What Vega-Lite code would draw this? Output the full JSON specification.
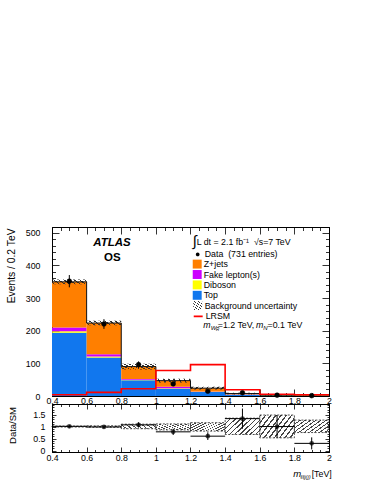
{
"$schema": "https://vega.github.io/schema/vega-lite/v6.json",
"padding": {"left": 6, "top": 226, "right": 0, "bottom": 0},
"background": "white",
"spacing": 8,
"bounds": "flush",
"config": {
 "font": "Liberation Sans",
 "view": {"stroke": "black", "strokeWidth": 1},
 "axis": {"labelFont": "Liberation Sans", "titleFont": "Liberation Sans", "labelFontSize": 8.8, "labelColor": "black", "titleColor": "black", "tickColor": "black", "domainColor": "black", "domainWidth": 1, "tickWidth": 0.8, "grid": false, "zindex": 1, "labelFlush": false, "labelOverlap": false, "titleFontWeight": "normal"},
 "legend": {"labelFont": "Liberation Sans", "labelFontSize": 8.8, "labelColor": "black", "padding": 0, "rowPadding": 0.4, "labelOffset": 2, "symbolSize": 80}
},
"datasets": {
 "stack": [
  {"lo":0.4,"hi":0.6,"process":"Top","ord":1,"n":194},
  {"lo":0.4,"hi":0.6,"process":"Diboson","ord":2,"n":4},
  {"lo":0.4,"hi":0.6,"process":"Fake lepton(s)","ord":3,"n":12},
  {"lo":0.4,"hi":0.6,"process":"Z+jets","ord":4,"n":139.5},
  {"lo":0.6,"hi":0.8,"process":"Top","ord":1,"n":118},
  {"lo":0.6,"hi":0.8,"process":"Diboson","ord":2,"n":3},
  {"lo":0.6,"hi":0.8,"process":"Fake lepton(s)","ord":3,"n":7},
  {"lo":0.6,"hi":0.8,"process":"Z+jets","ord":4,"n":95.4},
  {"lo":0.8,"hi":1.0,"process":"Top","ord":1,"n":48},
  {"lo":0.8,"hi":1.0,"process":"Diboson","ord":2,"n":2},
  {"lo":0.8,"hi":1.0,"process":"Fake lepton(s)","ord":3,"n":2},
  {"lo":0.8,"hi":1.0,"process":"Z+jets","ord":4,"n":38},
  {"lo":1.0,"hi":1.2,"process":"Top","ord":1,"n":22},
  {"lo":1.0,"hi":1.2,"process":"Diboson","ord":2,"n":2},
  {"lo":1.0,"hi":1.2,"process":"Fake lepton(s)","ord":3,"n":4},
  {"lo":1.0,"hi":1.2,"process":"Z+jets","ord":4,"n":19},
  {"lo":1.2,"hi":1.4,"process":"Top","ord":1,"n":12},
  {"lo":1.2,"hi":1.4,"process":"Diboson","ord":2,"n":1},
  {"lo":1.2,"hi":1.4,"process":"Fake lepton(s)","ord":3,"n":1},
  {"lo":1.2,"hi":1.4,"process":"Z+jets","ord":4,"n":10},
  {"lo":1.4,"hi":1.6,"process":"Top","ord":1,"n":4},
  {"lo":1.4,"hi":1.6,"process":"Diboson","ord":2,"n":0.5},
  {"lo":1.4,"hi":1.6,"process":"Fake lepton(s)","ord":3,"n":0.5},
  {"lo":1.4,"hi":1.6,"process":"Z+jets","ord":4,"n":2.5},
  {"lo":1.6,"hi":1.8,"process":"Top","ord":1,"n":1},
  {"lo":1.6,"hi":1.8,"process":"Diboson","ord":2,"n":0.3},
  {"lo":1.6,"hi":1.8,"process":"Fake lepton(s)","ord":3,"n":0.2},
  {"lo":1.6,"hi":1.8,"process":"Z+jets","ord":4,"n":1},
  {"lo":1.8,"hi":2.0,"process":"Top","ord":1,"n":1},
  {"lo":1.8,"hi":2.0,"process":"Diboson","ord":2,"n":0.3},
  {"lo":1.8,"hi":2.0,"process":"Fake lepton(s)","ord":3,"n":0.5},
  {"lo":1.8,"hi":2.0,"process":"Z+jets","ord":4,"n":1.5}
 ],
 "bins": [
  {"lo":0.4,"hi":0.6,"mid":0.5,"data":351.6,"dlo":332.8,"dhi":370.4,"blo":342.5,"bhi":356.5,"r":1.01,"rlo":0.955,"rhi":1.06,"rblo":0.98,"rbhi":1.02},
  {"lo":0.6,"hi":0.8,"mid":0.7,"data":220.4,"dlo":205.6,"dhi":235.2,"blo":216.7,"bhi":230.1,"r":0.985,"rlo":0.92,"rhi":1.05,"rblo":0.97,"rbhi":1.03},
  {"lo":0.8,"hi":1.0,"mid":0.9,"data":96,"dlo":86.2,"dhi":105.8,"blo":81.4,"bhi":98.6,"r":1.07,"rlo":0.96,"rhi":1.18,"rblo":0.91,"rbhi":1.1},
  {"lo":1.0,"hi":1.2,"mid":1.1,"data":37,"dlo":30.9,"dhi":43.1,"blo":41.4,"bhi":52.6,"r":0.78,"rlo":0.65,"rhi":0.91,"rblo":0.86,"rbhi":1.11},
  {"lo":1.2,"hi":1.4,"mid":1.3,"data":14.6,"dlo":10.8,"dhi":18.4,"blo":19.8,"bhi":28.2,"r":0.6,"rlo":0.44,"rhi":0.76,"rblo":0.81,"rbhi":1.16},
  {"lo":1.4,"hi":1.6,"mid":1.5,"data":9.8,"dlo":6.7,"dhi":12.9,"blo":5,"bhi":10,"r":1.33,"rlo":0.91,"rhi":1.75,"rblo":0.67,"rbhi":1.35},
  {"lo":1.6,"hi":1.8,"mid":1.7,"data":2.5,"dlo":0.9,"dhi":4.1,"blo":1.3,"bhi":3.7,"r":1.0,"rlo":0.52,"rhi":1.48,"rblo":0.53,"rbhi":1.48},
  {"lo":1.8,"hi":2.0,"mid":1.9,"data":1,"dlo":0,"dhi":2,"blo":2.4,"bhi":4.2,"r":0.3,"rlo":0.05,"rhi":0.55,"rblo":0.75,"rbhi":1.27}
 ],
 "steps": [
  {"edge":0.4,"tot":349.5,"sig":4},
  {"edge":0.6,"tot":223.4,"sig":11},
  {"edge":0.8,"tot":90,"sig":22},
  {"edge":1.0,"tot":47,"sig":78},
  {"edge":1.2,"tot":24,"sig":96},
  {"edge":1.4,"tot":7.5,"sig":19},
  {"edge":1.6,"tot":2.5,"sig":5.5},
  {"edge":1.8,"tot":3.3,"sig":3.6},
  {"edge":2.0,"tot":3.3,"sig":3.6}
 ]
},
"vconcat": [
 {
  "width": 277, "height": 169,
  "resolve": {"axis": {"x": "independent", "y": "independent"}, "scale": {"opacity": "independent"}, "legend": {"opacity": "independent"}},
  "layer": [
   {"data": {"name": "stack"},
    "transform": [{"stack": "n", "groupby": ["lo"], "sort": [{"field": "ord", "order": "ascending"}], "as": ["y0", "y1"]}],
    "mark": {"type": "rect"},
    "encoding": {
     "x": {"field": "lo", "type": "quantitative", "scale": {"domain": [0.4, 2], "nice": false, "zero": false},
           "axis": {"orient": "bottom", "title": null, "tickCount": 32, "labelExpr": "abs(datum.value*5-round(datum.value*5))<0.001 ? format(datum.value,'~g') : ''", "tickSize": {"condition": {"test": "abs(datum.value*5-round(datum.value*5))<0.001", "value": -7}, "value": -3.5}, "labelPadding": 7.5}},
     "x2": {"field": "hi"},
     "y": {"field": "y0", "type": "quantitative", "scale": {"domain": [0, 517.5], "nice": false, "zero": false},
           "axis": {"orient": "left", "title": "Events / 0.2 TeV", "titleFontSize": 10.3, "titleX": -40.5, "titleY": 1, "titleAlign": "right", "titleBaseline": "middle", "titleAngle": 270, "tickCount": 26, "labelExpr": "datum.value % 100 == 0 ? format(datum.value,'d') : ''", "tickSize": {"condition": {"test": "datum.value % 100 == 0", "value": -7}, "value": -3.5}, "labelPadding": 19}},
     "y2": {"field": "y1"},
     "color": {"field": "process", "type": "nominal",
               "scale": {"domain": ["Z+jets", "Fake lepton(s)", "Diboson", "Top"], "range": ["#ff7f00", "#cc00ff", "#ffff00", "#1177ee"]},
               "legend": {"orient": "none", "legendX": 140.7, "legendY": 32.6, "title": null, "symbolType": "square", "symbolStrokeWidth": 0}}
    }},
   {"data": {"name": "bins"},
    "mark": {"type": "rect", "fill": {"gradient": "linear", "x1": 0, "y1": 0, "x2": 1.2, "y2": 0.6, "stops": [
      {"offset":0,"color":"#333333"},{"offset":0.03,"color":"#333333"},{"offset":0.03,"color":"rgba(255,255,255,0)"},{"offset":0.1,"color":"rgba(255,255,255,0)"},
      {"offset":0.1,"color":"#333333"},{"offset":0.13,"color":"#333333"},{"offset":0.13,"color":"rgba(255,255,255,0)"},{"offset":0.2,"color":"rgba(255,255,255,0)"},
      {"offset":0.2,"color":"#333333"},{"offset":0.23,"color":"#333333"},{"offset":0.23,"color":"rgba(255,255,255,0)"},{"offset":0.3,"color":"rgba(255,255,255,0)"},
      {"offset":0.3,"color":"#333333"},{"offset":0.33,"color":"#333333"},{"offset":0.33,"color":"rgba(255,255,255,0)"},{"offset":0.4,"color":"rgba(255,255,255,0)"},
      {"offset":0.4,"color":"#333333"},{"offset":0.43,"color":"#333333"},{"offset":0.43,"color":"rgba(255,255,255,0)"},{"offset":0.5,"color":"rgba(255,255,255,0)"},
      {"offset":0.5,"color":"#333333"},{"offset":0.53,"color":"#333333"},{"offset":0.53,"color":"rgba(255,255,255,0)"},{"offset":0.6,"color":"rgba(255,255,255,0)"},
      {"offset":0.6,"color":"#333333"},{"offset":0.63,"color":"#333333"},{"offset":0.63,"color":"rgba(255,255,255,0)"},{"offset":0.7,"color":"rgba(255,255,255,0)"},
      {"offset":0.7,"color":"#333333"},{"offset":0.73,"color":"#333333"},{"offset":0.73,"color":"rgba(255,255,255,0)"},{"offset":0.8,"color":"rgba(255,255,255,0)"},
      {"offset":0.8,"color":"#333333"},{"offset":0.83,"color":"#333333"},{"offset":0.83,"color":"rgba(255,255,255,0)"},{"offset":0.9,"color":"rgba(255,255,255,0)"},
      {"offset":0.9,"color":"#333333"},{"offset":0.93,"color":"#333333"},{"offset":0.93,"color":"rgba(255,255,255,0)"},{"offset":1,"color":"rgba(255,255,255,0)"}]}},
    "encoding": {
     "x": {"field": "lo", "type": "quantitative", "scale": {"domain": [0.4, 2], "nice": false, "zero": false}, "axis": null},
     "x2": {"field": "hi"},
     "y": {"field": "blo", "type": "quantitative", "scale": {"domain": [0, 517.5], "nice": false, "zero": false}, "axis": null},
     "y2": {"field": "bhi"},
     "opacity": {"datum": "Background uncertainty", "scale": {"range": [1, 1]},
       "legend": {"orient": "none", "legendX": 140.7, "legendY": 73.5, "title": null, "symbolType": "M-1,-1H1V1H-1ZM-1,0.2L0.2,-1M-1,1L1,-1M-0.2,1L1,-0.2", "symbolStrokeColor": "#333333", "symbolStrokeWidth": 0.7, "symbolFillColor": "white"}}
    }},
   {"data": {"name": "steps"}, "mark": {"type": "line", "interpolate": "step-after", "color": "#111111", "strokeWidth": 1},
    "encoding": {
     "x": {"field": "edge", "type": "quantitative", "scale": {"domain": [0.4, 2], "nice": false, "zero": false},
           "axis": {"orient": "top", "title": null, "labels": false, "tickCount": 32, "tickSize": {"condition": {"test": "abs(datum.value*5-round(datum.value*5))<0.001", "value": -7}, "value": -3.5}}},
     "y": {"field": "tot", "type": "quantitative", "scale": {"domain": [0, 517.5], "nice": false, "zero": false},
           "axis": {"orient": "right", "title": null, "labels": false, "tickCount": 26, "tickSize": {"condition": {"test": "datum.value % 100 == 0", "value": -7}, "value": -3.5}}}
    }},
   {"data": {"name": "steps"}, "mark": {"type": "line", "interpolate": "step-after", "color": "#ff0000", "strokeWidth": 1.6},
    "encoding": {
     "x": {"field": "edge", "type": "quantitative", "scale": {"domain": [0.4, 2], "nice": false, "zero": false}, "axis": null},
     "y": {"field": "sig", "type": "quantitative", "scale": {"domain": [0, 517.5], "nice": false, "zero": false}, "axis": null},
     "strokeDash": {"datum": "LRSM", "scale": {"range": [[1, 0]]},
       "legend": {"orient": "none", "legendX": 140.7, "legendY": 83.9, "title": null, "symbolStrokeWidth": 1.6}}
    }},
   {"data": {"name": "bins"}, "mark": {"type": "rule", "color": "black", "strokeWidth": 1},
    "encoding": {
     "x": {"field": "mid", "type": "quantitative", "scale": {"domain": [0.4, 2], "nice": false, "zero": false}, "axis": null},
     "y": {"field": "dlo", "type": "quantitative", "scale": {"domain": [0, 517.5], "nice": false, "zero": false}, "axis": null},
     "y2": {"field": "dhi"}
    }},
   {"data": {"name": "bins"}, "mark": {"type": "point", "shape": "circle", "filled": true, "size": 22, "color": "black", "stroke": "black", "strokeWidth": 0.6},
    "encoding": {
     "x": {"field": "mid", "type": "quantitative", "scale": {"domain": [0.4, 2], "nice": false, "zero": false}, "axis": null},
     "y": {"field": "data", "type": "quantitative", "scale": {"domain": [0, 517.5], "nice": false, "zero": false}, "axis": null},
     "opacity": {"datum": "Data\u00a0\u00a0(731 entries)", "scale": {"range": [1, 1]},
       "legend": {"orient": "none", "legendX": 140.7, "legendY": 22.4, "title": null, "symbolType": "M-1,0H1M0,-0.6V0.6M0.42,0A0.42,0.42,0,1,1,-0.42,0A0.42,0.42,0,1,1,0.42,0Z", "symbolFillColor": "black", "symbolStrokeColor": "black", "symbolStrokeWidth": 1}}
    }},
   {"data": {"values": [{"t": "ATLAS"}]}, "mark": {"type": "text", "fontSize": 11.5, "fontWeight": "bold", "fontStyle": "italic", "align": "center", "baseline": "middle", "color": "black"},
    "encoding": {"text": {"field": "t", "type": "nominal"},
     "x": {"datum": 0.7466, "type": "quantitative", "scale": {"domain": [0.4, 2], "nice": false, "zero": false}, "axis": null},
     "y": {"datum": 469.4, "type": "quantitative", "scale": {"domain": [0, 517.5], "nice": false, "zero": false}, "axis": null}}},
   {"data": {"values": [{"t": "OS"}]}, "mark": {"type": "text", "fontSize": 11.5, "fontWeight": "bold", "align": "center", "baseline": "middle", "color": "black"},
    "encoding": {"text": {"field": "t", "type": "nominal"},
     "x": {"datum": 0.7484, "type": "quantitative", "scale": {"domain": [0.4, 2], "nice": false, "zero": false}, "axis": null},
     "y": {"datum": 423.5, "type": "quantitative", "scale": {"domain": [0, 517.5], "nice": false, "zero": false}, "axis": null}}},
   {"data": {"values": [{"t": "∫"}]}, "mark": {"type": "text", "fontSize": 15, "align": "center", "baseline": "middle", "color": "black"},
    "encoding": {"text": {"field": "t", "type": "nominal"},
     "x": {"datum": 1.2232, "type": "quantitative", "scale": {"domain": [0.4, 2], "nice": false, "zero": false}, "axis": null},
     "y": {"datum": 473.1, "type": "quantitative", "scale": {"domain": [0, 517.5], "nice": false, "zero": false}, "axis": null}}},
   {"data": {"values": [{"t": "L dt = 2.1 fb⁻¹\u00a0 √s=7 TeV"}]}, "mark": {"type": "text", "fontSize": 8.8, "align": "left", "baseline": "middle", "color": "black"},
    "encoding": {"text": {"field": "t", "type": "nominal"},
     "x": {"datum": 1.2359, "type": "quantitative", "scale": {"domain": [0.4, 2], "nice": false, "zero": false}, "axis": null},
     "y": {"datum": 472.5, "type": "quantitative", "scale": {"domain": [0, 517.5], "nice": false, "zero": false}, "axis": null}}},
   {"data": {"values": [{"t": "m"}]}, "mark": {"type": "text", "fontSize": 8.8, "fontStyle": "italic", "align": "left", "baseline": "middle", "color": "black"},
    "encoding": {"text": {"field": "t", "type": "nominal"},
     "x": {"datum": 1.2739, "type": "quantitative", "scale": {"domain": [0.4, 2], "nice": false, "zero": false}, "axis": null},
     "y": {"datum": 216.5, "type": "quantitative", "scale": {"domain": [0, 517.5], "nice": false, "zero": false}, "axis": null}}},
   {"data": {"values": [{"t": "W"}]}, "mark": {"type": "text", "fontSize": 6, "fontStyle": "italic", "align": "left", "baseline": "middle", "color": "black"},
    "encoding": {"text": {"field": "t", "type": "nominal"},
     "x": {"datum": 1.3167, "type": "quantitative", "scale": {"domain": [0.4, 2], "nice": false, "zero": false}, "axis": null},
     "y": {"datum": 209.5, "type": "quantitative", "scale": {"domain": [0, 517.5], "nice": false, "zero": false}, "axis": null}}},
   {"data": {"values": [{"t": "R"}]}, "mark": {"type": "text", "fontSize": 4.5, "fontStyle": "italic", "align": "left", "baseline": "middle", "color": "black"},
    "encoding": {"text": {"field": "t", "type": "nominal"},
     "x": {"datum": 1.3473, "type": "quantitative", "scale": {"domain": [0.4, 2], "nice": false, "zero": false}, "axis": null},
     "y": {"datum": 203.4, "type": "quantitative", "scale": {"domain": [0, 517.5], "nice": false, "zero": false}, "axis": null}}},
   {"data": {"values": [{"t": "=1.2 TeV,"}]}, "mark": {"type": "text", "fontSize": 8.8, "align": "left", "baseline": "middle", "color": "black"},
    "encoding": {"text": {"field": "t", "type": "nominal"},
     "x": {"datum": 1.3577, "type": "quantitative", "scale": {"domain": [0.4, 2], "nice": false, "zero": false}, "axis": null},
     "y": {"datum": 216.5, "type": "quantitative", "scale": {"domain": [0, 517.5], "nice": false, "zero": false}, "axis": null}}},
   {"data": {"values": [{"t": "m"}]}, "mark": {"type": "text", "fontSize": 8.8, "fontStyle": "italic", "align": "left", "baseline": "middle", "color": "black"},
    "encoding": {"text": {"field": "t", "type": "nominal"},
     "x": {"datum": 1.5783, "type": "quantitative", "scale": {"domain": [0.4, 2], "nice": false, "zero": false}, "axis": null},
     "y": {"datum": 216.5, "type": "quantitative", "scale": {"domain": [0, 517.5], "nice": false, "zero": false}, "axis": null}}},
   {"data": {"values": [{"t": "N"}]}, "mark": {"type": "text", "fontSize": 6, "fontStyle": "italic", "align": "left", "baseline": "middle", "color": "black"},
    "encoding": {"text": {"field": "t", "type": "nominal"},
     "x": {"datum": 1.6205, "type": "quantitative", "scale": {"domain": [0.4, 2], "nice": false, "zero": false}, "axis": null},
     "y": {"datum": 209.5, "type": "quantitative", "scale": {"domain": [0, 517.5], "nice": false, "zero": false}, "axis": null}}},
   {"data": {"values": [{"t": "=0.1 TeV"}]}, "mark": {"type": "text", "fontSize": 8.8, "align": "left", "baseline": "middle", "color": "black"},
    "encoding": {"text": {"field": "t", "type": "nominal"},
     "x": {"datum": 1.6448, "type": "quantitative", "scale": {"domain": [0.4, 2], "nice": false, "zero": false}, "axis": null},
     "y": {"datum": 216.5, "type": "quantitative", "scale": {"domain": [0, 517.5], "nice": false, "zero": false}, "axis": null}}}
  ]
 },
 {
  "width": 277, "height": 48,
  "resolve": {"axis": {"x": "independent", "y": "independent"}},
  "layer": [
   {"data": {"name": "bins"},
    "mark": {"type": "rect", "stroke": "#222222", "strokeWidth": 0.8, "strokeDash": [2, 1.5], "fill": {"gradient": "linear", "x1": 0, "y1": 0, "x2": 1.2, "y2": 0.6, "stops": [
      {"offset":0,"color":"#444444"},{"offset":0.03,"color":"#444444"},{"offset":0.03,"color":"rgba(255,255,255,0)"},{"offset":0.1,"color":"rgba(255,255,255,0)"},
      {"offset":0.1,"color":"#444444"},{"offset":0.13,"color":"#444444"},{"offset":0.13,"color":"rgba(255,255,255,0)"},{"offset":0.2,"color":"rgba(255,255,255,0)"},
      {"offset":0.2,"color":"#444444"},{"offset":0.23,"color":"#444444"},{"offset":0.23,"color":"rgba(255,255,255,0)"},{"offset":0.3,"color":"rgba(255,255,255,0)"},
      {"offset":0.3,"color":"#444444"},{"offset":0.33,"color":"#444444"},{"offset":0.33,"color":"rgba(255,255,255,0)"},{"offset":0.4,"color":"rgba(255,255,255,0)"},
      {"offset":0.4,"color":"#444444"},{"offset":0.43,"color":"#444444"},{"offset":0.43,"color":"rgba(255,255,255,0)"},{"offset":0.5,"color":"rgba(255,255,255,0)"},
      {"offset":0.5,"color":"#444444"},{"offset":0.53,"color":"#444444"},{"offset":0.53,"color":"rgba(255,255,255,0)"},{"offset":0.6,"color":"rgba(255,255,255,0)"},
      {"offset":0.6,"color":"#444444"},{"offset":0.63,"color":"#444444"},{"offset":0.63,"color":"rgba(255,255,255,0)"},{"offset":0.7,"color":"rgba(255,255,255,0)"},
      {"offset":0.7,"color":"#444444"},{"offset":0.73,"color":"#444444"},{"offset":0.73,"color":"rgba(255,255,255,0)"},{"offset":0.8,"color":"rgba(255,255,255,0)"},
      {"offset":0.8,"color":"#444444"},{"offset":0.83,"color":"#444444"},{"offset":0.83,"color":"rgba(255,255,255,0)"},{"offset":0.9,"color":"rgba(255,255,255,0)"},
      {"offset":0.9,"color":"#444444"},{"offset":0.93,"color":"#444444"},{"offset":0.93,"color":"rgba(255,255,255,0)"},{"offset":1,"color":"rgba(255,255,255,0)"}]}},
    "encoding": {
     "x": {"field": "lo", "type": "quantitative", "scale": {"domain": [0.4, 2], "nice": false, "zero": false},
           "axis": {"orient": "bottom", "title": null, "tickCount": 32, "labelExpr": "abs(datum.value*5-round(datum.value*5))<0.001 ? format(datum.value,'~g') : ''", "tickSize": {"condition": {"test": "abs(datum.value*5-round(datum.value*5))<0.001", "value": -5}, "value": -2.5}, "labelPadding": 6}},
     "x2": {"field": "hi"},
     "y": {"field": "rblo", "type": "quantitative", "scale": {"domain": [-0.06, 1.94], "nice": false, "zero": false},
           "axis": {"orient": "left", "title": "Data/SM", "titleFontSize": 9.5, "titleX": -40, "titleY": 2.5, "titleAlign": "right", "titleBaseline": "middle", "titleAngle": 270, "tickCount": 20, "labelExpr": "abs(datum.value*2-round(datum.value*2))<0.001 ? format(datum.value,'~g') : ''", "tickSize": {"condition": {"test": "abs(datum.value*2-round(datum.value*2))<0.001", "value": -4}, "value": -2}, "labelPadding": 11}},
     "y2": {"field": "rbhi"}
    }},
   {"data": {"name": "bins"}, "mark": {"type": "rule", "color": "black", "strokeWidth": 1},
    "encoding": {
     "x": {"field": "lo", "type": "quantitative", "scale": {"domain": [0.4, 2], "nice": false, "zero": false},
           "axis": {"orient": "top", "title": null, "labels": false, "tickCount": 32, "tickSize": {"condition": {"test": "abs(datum.value*5-round(datum.value*5))<0.001", "value": -5}, "value": -2.5}}},
     "x2": {"field": "hi"},
     "y": {"field": "r", "type": "quantitative", "scale": {"domain": [-0.06, 1.94], "nice": false, "zero": false},
           "axis": {"orient": "right", "title": null, "labels": false, "tickCount": 20, "tickSize": {"condition": {"test": "abs(datum.value*2-round(datum.value*2))<0.001", "value": -4}, "value": -2}}}
    }},
   {"data": {"name": "bins"}, "mark": {"type": "rule", "color": "black", "strokeWidth": 1},
    "encoding": {
     "x": {"field": "mid", "type": "quantitative", "scale": {"domain": [0.4, 2], "nice": false, "zero": false}, "axis": null},
     "y": {"field": "rlo", "type": "quantitative", "scale": {"domain": [-0.06, 1.94], "nice": false, "zero": false}, "axis": null},
     "y2": {"field": "rhi"}
    }},
   {"data": {"name": "bins"}, "mark": {"type": "point", "shape": "circle", "filled": true, "size": 22, "color": "black"},
    "encoding": {
     "x": {"field": "mid", "type": "quantitative", "scale": {"domain": [0.4, 2], "nice": false, "zero": false}, "axis": null},
     "y": {"field": "r", "type": "quantitative", "scale": {"domain": [-0.06, 1.94], "nice": false, "zero": false}, "axis": null}
    }},
   {"data": {"values": [{"t": "m"}]}, "mark": {"type": "text", "fontSize": 9.5, "fontStyle": "italic", "align": "left", "baseline": "middle", "color": "black"},
    "encoding": {"text": {"field": "t", "type": "nominal"},
     "x": {"datum": 1.7938, "type": "quantitative", "scale": {"domain": [0.4, 2], "nice": false, "zero": false}, "axis": null},
     "y": {"datum": -0.99, "type": "quantitative", "scale": {"domain": [-0.06, 1.94], "nice": false, "zero": false}, "axis": null}}},
   {"data": {"values": [{"t": "ℓℓj(j)"}]}, "mark": {"type": "text", "fontSize": 5.8, "fontStyle": "italic", "align": "left", "baseline": "middle", "color": "black"},
    "encoding": {"text": {"field": "t", "type": "nominal"},
     "x": {"datum": 1.8354, "type": "quantitative", "scale": {"domain": [0.4, 2], "nice": false, "zero": false}, "axis": null},
     "y": {"datum": -1.083, "type": "quantitative", "scale": {"domain": [-0.06, 1.94], "nice": false, "zero": false}, "axis": null}}},
   {"data": {"values": [{"t": "[TeV]"}]}, "mark": {"type": "text", "fontSize": 8.8, "align": "right", "baseline": "middle", "color": "black"},
    "encoding": {"text": {"field": "t", "type": "nominal"},
     "x": {"datum": 2.0156, "type": "quantitative", "scale": {"domain": [0.4, 2], "nice": false, "zero": false}, "axis": null},
     "y": {"datum": -0.967, "type": "quantitative", "scale": {"domain": [-0.06, 1.94], "nice": false, "zero": false}, "axis": null}}}
  ]
 }
]
}
